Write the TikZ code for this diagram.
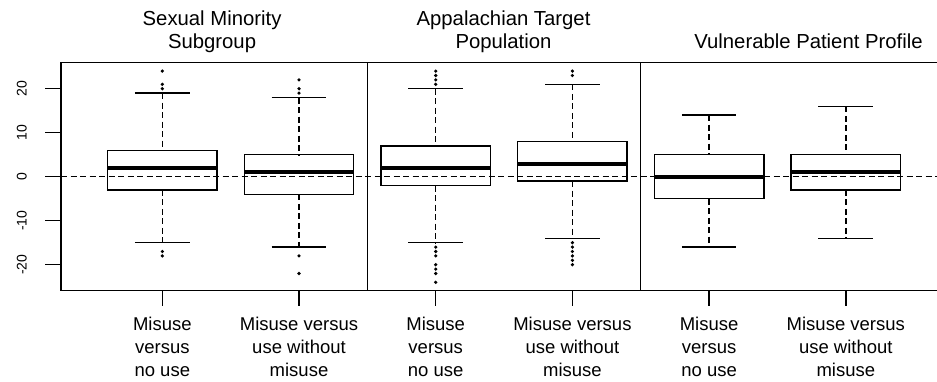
\documentclass[tikz,border=0pt]{standalone}
\usepackage{fontspec}
\setmainfont{Liberation Sans}
\tikzset{
  whisk/.style={dash pattern=on 6pt off 3.5pt},
  lab/.style={align=center,font=\fontsize{18.5}{23}\selectfont,anchor=base},
  ttl/.style={align=center,font=\fontsize{20.3}{23}\selectfont,anchor=base},
  ylab/.style={rotate=90,anchor=base,font=\fontsize{14}{14}\selectfont}
}
\begin{document}
\begin{tikzpicture}[x=136.7pt,y=4.4pt,line width=1.4pt]
  \useasboundingbox (-0.1873,-46.43) rectangle (6.667,40.16);
  \clip (-0.1873,-46.43) rectangle (6.667,40.16);
  % frame and panels
  \draw (6.74,25.9) -- (0.259,25.9) -- (0.259,-25.9) -- (6.74,-25.9);
  \draw (2.5,25.9) -- (2.5,-25.9) (4.5,25.9) -- (4.5,-25.9);
  % y axis
  \foreach \v in {-20,-10,...,20}{
    \draw (0.259,\v) -- (0.142,\v);
    \node[ylab] (y\v) at (0.008,\v) {\v};
  }
  % boxes
  \foreach \i/\lo/\qa/\md/\qb/\hi in {1/-15/-3/2/6/19,2/-16/-4/1/5/18,3/-15/-2/2/7/20,4/-14/-1/3/8/21,5/-16/-5/0/5/14,6/-14/-3/1/5/16}{
    \draw[whisk] (\i,\hi) -- (\i,\qb) (\i,\qa) -- (\i,\lo);
    \draw (\i-0.2,\hi) -- (\i+0.2,\hi) (\i-0.2,\lo) -- (\i+0.2,\lo);
    \draw (\i-0.4,\qa) rectangle (\i+0.4,\qb);
    \draw[line width=4pt] (\i-0.4,\md) -- (\i+0.4,\md);
    \draw (\i,-25.9) -- (\i,-29.4);
  }
  % outliers
  \foreach \i/\o in {1/24,1/21,1/20,1/-17,1/-18,2/22,2/20,2/19,2/-18,2/-22,
      3/21,3/22,3/23,3/24,3/-16,3/-17,3/-18,3/-20,3/-21,3/-22,3/-24,
      4/23,4/24,4/-15,4/-16,4/-17,4/-18,4/-19,4/-20}
    \fill (\i,\o) circle (1.8pt);
  % zero line
  \draw[whisk] (0.259,0) -- (6.74,0);
  % labels
  \foreach \i in {1,3,5}
    \node[lab] (m\i) at (\i,-45.5) {Misuse\\versus\\no use};
  \foreach \i in {2,4,6}
    \node[lab] (m\i) at (\i,-45.5) {Misuse versus\\use without\\misuse};
  \node[ttl] (t1) at (1.364,29.25) {Sexual Minority\\Subgroup};
  \node[ttl] (t2) at (3.496,29.25) {Appalachian Target\\Population};
  \node[ttl] (t3) at (5.727,29.25) {Vulnerable Patient Profile};
\end{tikzpicture}
\end{document}
